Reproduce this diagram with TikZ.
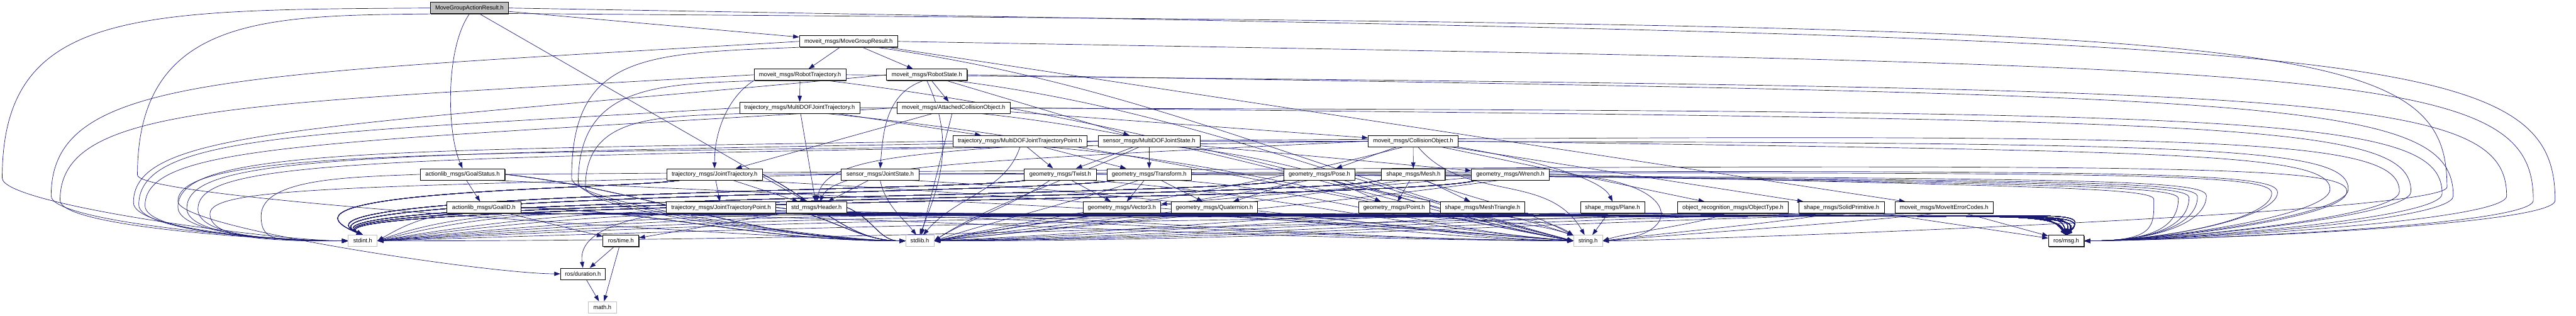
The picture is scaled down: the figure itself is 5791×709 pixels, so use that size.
\documentclass[tikz,border=0pt]{standalone}
\usepackage{fontspec}
\setmainfont{Liberation Sans}
\usetikzlibrary{arrows.meta,backgrounds,shadows}
\definecolor{edgeblue}{HTML}{191970}
\definecolor{boxgray}{HTML}{BFBFBF}
\newcommand\loopleft[6]{\draw[dep] (#1) .. controls (#2,#4) and (#3,#4) .. (#3,#5) .. controls (#3,#5+60) and +(-160,0) .. (#6);}
\newcommand\loopright[6]{\draw[dep] (#1) .. controls (#2,#4) and (#3,#4) .. (#3,#5) .. controls (#3,#5+60) and +(160,0) .. (#6);}
\begin{document}
\begin{tikzpicture}[x=0.02cm, y=-0.02cm,
  font=\fontsize{7.5}{9}\selectfont,
  box/.style={draw=black, line width=0.6pt, fill=white, inner sep=0pt, minimum height=0.51cm, minimum width=#1*0.02cm},
  hf/.style={box=#1, drop shadow={shadow xshift=0.7pt, shadow yshift=-0.9pt, fill=black!75, opacity=1}},
  sf/.style={box=#1, draw=boxgray},
  rf/.style={hf=#1, fill=boxgray},
  dep/.style={draw=edgeblue, line width=0.55pt, -{Triangle[length=0.27cm,width=0.19cm]}}]
\useasboundingbox (0,0) rectangle (5791,709);
\node[rf=175] (root) at (1055.3,18) {MoveGroupActionResult.h};
\node[hf=221] (mgr) at (1907.5,93) {moveit\_msgs/MoveGroupResult.h};
\node[hf=207] (rtraj) at (1798.5,168) {moveit\_msgs/RobotTrajectory.h};
\node[hf=181] (rstate) at (2083.6,168) {moveit\_msgs/RobotState.h};
\node[hf=270] (mdjt) at (1797.6,242) {trajectory\_msgs/MultiDOFJointTrajectory.h};
\node[hf=254] (aco) at (2143.6,242) {moveit\_msgs/AttachedCollisionObject.h};
\node[hf=302] (mdjtp) at (2292.9,317) {trajectory\_msgs/MultiDOFJointTrajectoryPoint.h};
\node[hf=230] (mdjs) at (2583.4,317) {sensor\_msgs/MultiDOFJointState.h};
\node[hf=202] (cobj) at (3176.9,317) {moveit\_msgs/CollisionObject.h};
\node[hf=190.5] (gstat) at (1039.8,391.5) {actionlib\_msgs/GoalStatus.h};
\node[hf=215.5] (jtraj) at (1606.3,391.5) {trajectory\_msgs/JointTrajectory.h};
\node[hf=174.5] (jstate) at (1978.6,391.5) {sensor\_msgs/JointState.h};
\node[hf=162] (twist) at (2383.4,391.5) {geometry\_msgs/Twist.h};
\node[hf=189.3] (transform) at (2583.4,391.5) {geometry\_msgs/Transform.h};
\node[hf=159.4] (pose) at (2966.1,391.5) {geometry\_msgs/Pose.h};
\node[hf=143] (mesh) at (3177.2,391.5) {shape\_msgs/Mesh.h};
\node[hf=174.7] (wrench) at (3395.4,391.5) {geometry\_msgs/Wrench.h};
\node[hf=166] (gid) at (1087.8,466) {actionlib\_msgs/GoalID.h};
\node[hf=246] (jtp) at (1620.9,466) {trajectory\_msgs/JointTrajectoryPoint.h};
\node[hf=136] (header) at (1835.5,466) {std\_msgs/Header.h};
\node[hf=174] (vec3) at (2522,466) {geometry\_msgs/Vector3.h};
\node[hf=193] (quat) at (2730,466) {geometry\_msgs/Quaternion.h};
\node[hf=160] (point) at (3134,466) {geometry\_msgs/Point.h};
\node[hf=190] (mtri) at (3332.8,466) {shape\_msgs/MeshTriangle.h};
\node[hf=144] (plane) at (3625,466) {shape\_msgs/Plane.h};
\node[hf=248.5] (otype) at (3895.8,466) {object\_recognition\_msgs/ObjectType.h};
\node[hf=191.6] (solid) at (4139.8,466) {shape\_msgs/SolidPrimitive.h};
\node[hf=221.3] (merr) at (4370.4,466) {moveit\_msgs/MoveItErrorCodes.h};
\node[sf=65] (stdint) at (815.5,541) {stdint.h};
\node[hf=80.4] (rtime) at (1395.8,541) {ros/time.h};
\node[sf=63.8] (stdlib) at (2067.7,541) {stdlib.h};
\node[sf=65] (strh) at (3570,541) {string.h};
\node[hf=80.2] (rmsg) at (4645,541) {ros/msg.h};
\node[hf=100.7] (rdur) at (1310.4,615) {ros/duration.h};
\node[sf=62.6] (math) at (1354.3,690) {math.h};
\begin{pgfonlayer}{background}
\draw[dep] (root) -- (mgr);
\draw[dep] (root.south) .. controls (1000,110) and (1005,300) .. (gstat.north);
\draw[dep] (root) -- (header);
\draw[dep] (mgr) -- (rtraj);
\draw[dep] (mgr) -- (rstate);
\draw[dep] (mgr) -- (merr);
\draw[dep] (rtraj.south west) .. controls (1640,215) and (1606,290) .. (jtraj.north);
\draw[dep] (rtraj) -- (mdjt);
\draw[dep] (rstate.-120) .. controls (1990,210) and (1985,300) .. (jstate.north);
\draw[dep] (rstate) -- (aco);
\draw[dep] (rstate) -- (mdjs);
\draw[dep] (mdjt) -- (mdjtp);
\draw[dep] (mdjt) -- (header);
\draw[dep] (aco) -- (cobj);
\draw[dep] (aco) -- (jtraj);
\draw[dep] (mdjtp) -- (twist);
\draw[dep] (mdjtp) -- (transform);
\draw[dep] (mdjs.west) .. controls (2000,345) and (1855,360) .. (header.north);
\draw[dep] (mdjs) -- (twist);
\draw[dep] (mdjs) -- (transform);
\draw[dep] (mdjs) -- (wrench);
\draw[dep] (cobj.west) .. controls (2200,360) and (1880,372) .. (header.60);
\draw[dep] (cobj) -- (pose);
\draw[dep] (cobj) -- (mesh);
\draw[dep] (cobj.south east) .. controls (3450,360) and (3600,400) .. (plane.north);
\draw[dep] (cobj) -- (otype);
\draw[dep] (cobj) -- (solid);
\draw[dep] (gstat) -- (gid);
\draw[dep] (jtraj) -- (header);
\draw[dep] (jtraj) -- (jtp);
\draw[dep] (jstate) -- (header);
\draw[dep] (twist) -- (vec3);
\draw[dep] (transform) -- (vec3);
\draw[dep] (transform) -- (quat);
\draw[dep] (pose) -- (point);
\draw[dep] (pose) -- (quat);
\draw[dep] (mesh) -- (point);
\draw[dep] (mesh) -- (mtri);
\draw[dep] (wrench) -- (vec3);
\draw[dep] (gid) -- (rtime);
\draw[dep] (jtp.south west) .. controls (1380,495) and (1300,530) .. (rdur.north);
\draw[dep] (header) -- (rtime);
\draw[dep] (rtime) -- (rdur);
\draw[dep] (rtime) -- (math);
\draw[dep] (rdur) -- (math);
\loopleft{mdjtp.south west}{900}{400}{345}{452}{rdur.west}
\foreach \src/\cx/\lx/\ty/\by in {root/300/5/22/400, mgr/500/115/170/440, rtraj/520/135/235/450, rstate/700/300/290/455, mdjt/700/312/300/460, aco/720/326/322/462, mdjtp/800/400/338/465, mdjs/820/420/346/468, cobj/840/445/354/470, jstate/800/472/420/480, gstat/800/587/398/485}
  \loopleft{\src.west}{\cx}{\lx}{\ty}{\by}{stdint.west}
\foreach \src/\cx/\dx/\ty in {jtraj/1400/560/425, twist/2150/590/430, transform/2350/610/436, pose/2740/630/442, mesh/2960/650/447, wrench/3170/670/452}
  \draw[dep] (\src.-170) .. controls (\cx,\ty) and (\dx,\ty) .. (stdint.north);
\foreach \src/\ax/\bx/\by in {gid/65/60/35, jtp/250/240/85, header/360/350/90, vec3/650/640/110, quat/730/720/100, point/870/860/90, mtri/940/930/80, plane/1050/1040/70, otype/1150/1140/60, solid/1250/1240/40, merr/1330/1320/0}
  \draw[dep] (\src.-170) .. controls +(-\ax,10) and +(\bx,-\by) .. (stdint.east);
\loopleft{root.south west}{600}{309}{35}{393}{stdlib.west}
\foreach \src/\cx/\lx/\ty/\by in {mgr/1450/1285/120/400, rtraj/1480/1300/190/410, mdjt/1470/1316/262/420}
  \loopleft{\src.south west}{\cx}{\lx}{\ty}{\by}{stdlib.west}
\foreach \src/\ax/\ay/\bx in {gstat/350/40/350, gid/330/10/330, jtraj/120/60/130, jtp/110/10/110, header/60/25/60}
  \draw[dep] (\src.east) .. controls +(\ax,\ay) and +(-\bx,0) .. (stdlib.west);
\draw[dep] (rstate.south) .. controls (2150,320) and (2110,420) .. (stdlib.north);
\draw[dep] (aco) -- (stdlib);
\draw[dep] (jstate.south) .. controls (1990,460) and (2030,490) .. (stdlib.120);
\draw[dep] (mdjtp.south) .. controls (2260,430) and (2150,440) .. (stdlib.60);
\foreach \src/\ax/\ay/\bx/\by in {mdjs/150/70/120/80, twist/80/55/60/40, transform/150/50/120/40, cobj/380/100/380/80, pose/300/60/300/55, mesh/380/60/380/50, wrench/450/60/450/45}
  \draw[dep] (\src.-150) .. controls +(-\ax,\ay) and +(\bx,-\by) .. (stdlib.east);
\foreach \src/\ax/\by in {vec3/120/20, quat/200/18, point/360/15, mtri/420/12, plane/550/10, otype/640/8, solid/740/5, merr/840/0}
  \draw[dep] (\src.-150) .. controls +(-\ax,15) and +(\ax,-\by) .. (stdlib.east);
\loopright{root.-8}{5100}{5501}{60}{420}{strh.east}
\foreach \src/\ax/\ay/\bx/\by in {mgr/600/85/600/160, rtraj/620/75/620/150, rstate/520/65/520/130, mdjt/600/60/600/110, aco/480/50/480/95, mdjtp/420/35/420/75, mdjs/320/28/320/55, gstat/900/40/900/70, jtraj/700/35/700/50, jstate/560/30/560/40, twist/420/30/420/35, transform/340/25/340/25}
  \draw[dep] (\src.-12) .. controls +(\ax,\ay) and +(-\bx,-\by) .. (strh.west);
\foreach \src/\ax in {gid/900, jtp/700, header/640, vec3/360, quat/280}
  \draw[dep] (\src.-30) .. controls +(\ax,0) and +(-\ax,-5) .. (strh.west);
\draw[dep] (cobj.-50) .. controls (3294,456) and (3480,385) .. (strh.120);
\foreach \src/\ax/\ay/\by in {pose/200/50/70, mesh/130/50/70, point/120/20/40, mtri/50/15/35}
  \draw[dep] (\src.-30) .. controls +(\ax,\ay) and +(-\ax,-\by) .. (strh.160);
\draw[dep] (wrench.east) .. controls (3780,395) and (3800,530) .. (strh.east);
\draw[dep] (plane) -- (strh);
\foreach \src/\ax in {otype/60, solid/160, merr/240}
  \draw[dep] (\src.-140) .. controls +(-\ax,25) and +(\ax,-20) .. (strh.east);
\foreach \src/\cx/\lx/\ty/\by in {root/5300/5744/90/450, mgr/5300/5695/150/450, rtraj/5200/5635/200/440, rstate/5100/5515/215/440, mdjt/5050/5490/250/435, aco/5000/5420/270/430, mdjtp/4950/5394/300/430, mdjs/4900/5279/320/425, cobj/4850/5238/340/425, gstat/4850/5276/365/430, jtraj/4750/5120/380/432, jstate/4750/5107/385/434, twist/4650/4960/400/440, transform/4630/4940/405/442, pose/4600/4921/410/444, mesh/4580/4897/415/446, wrench/4550/4842/420/448}
  \loopright{\src.east}{\cx}{\lx}{\ty}{\by}{rmsg.east}
\foreach \src/\cx/\dx in {gid/4300/4700, jtp/4350/4690, header/4400/4610, vec3/4440/4600, quat/4470/4720, point/4500/4660, mtri/4520/4630, plane/4540/4590, otype/4560/4710}
  \draw[dep] (\src.-10) .. controls (\cx,500) and (\dx,460) .. (rmsg.north);
\draw[dep] (solid) -- (rmsg);
\draw[dep] (merr) -- (rmsg);
\end{pgfonlayer}
\end{tikzpicture}
\end{document}
